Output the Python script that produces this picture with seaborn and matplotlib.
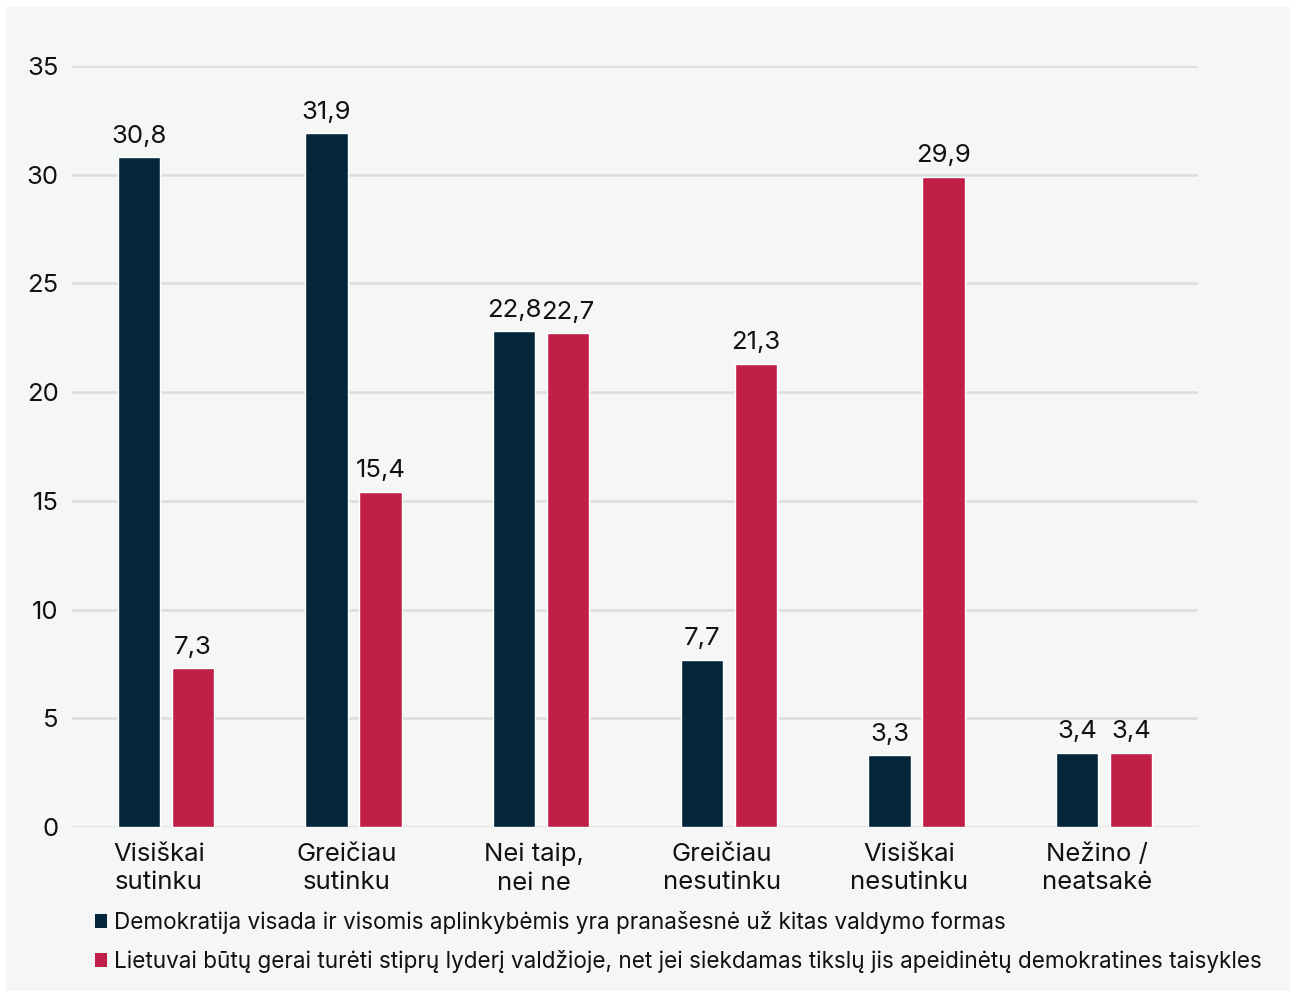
import numpy as np
import pandas as pd
import seaborn as sns
import matplotlib.pyplot as plt
from matplotlib.patches import Patch, Rectangle
from matplotlib.transforms import ScaledTranslation

categories = ["Visiškai\nsutinku", "Greičiau\nsutinku", "Nei taip,\nnei ne",
              "Greičiau\nnesutinku", "Visiškai\nnesutinku", "Nežino /\nneatsakė"]
series_names = ["Demokratija visada ir visomis aplinkybėmis yra pranašesnė už kitas valdymo formas",
                "Lietuvai būtų gerai turėti stiprų lyderį valdžioje, net jei siekdamas tikslų jis apeidinėtų demokratines taisykles"]
demokratija = [30.8, 31.9, 22.8, 7.7, 3.3, 3.4]
lyderis = [7.3, 15.4, 22.7, 21.3, 29.9, 3.4]
colors = ["#03263a", "#c01f48"]

df = pd.DataFrame({
    "kategorija": categories * 2,
    "serija": [series_names[0]] * 6 + [series_names[1]] * 6,
    "reiksme": demokratija + lyderis,
})

sns.set_theme(style="white")
plt.rcParams["font.family"] = ["Inter", "DejaVu Sans"]
plt.rcParams["text.color"] = "#111111"

fig = plt.figure(figsize=(12.9, 9.91), dpi=100, facecolor="white")
fig.patches.append(Rectangle((6 / 1290, 1 / 991), 1284 / 1290, 983 / 991,
                             transform=fig.transFigure, color="#f5f7f7", zorder=-5))
ax = fig.add_axes([72 / 1290, 1 - 827 / 991, 1126 / 1290, 761 / 991])
ax.set_facecolor("none")

sns.barplot(data=df, x="kategorija", y="reiksme", hue="serija", palette=colors,
            width=0.576, gap=0.222, ax=ax, legend=False, saturation=1)

for cont in ax.containers:
    ax.bar_label(cont, labels=[f"{v:.1f}".replace(".", ",") for v in cont.datavalues],
                 padding=7, fontsize=18.5, color="#111111")

ax.set_ylim(0, 35)
ax.set_xlim(-0.5, 5.5)
ax.set_yticks(range(0, 36, 5))
ax.yaxis.grid(True, color="#dcdddd", linewidth=1.8)
ax.set_axisbelow(True)
for s in ax.spines.values():
    s.set_visible(False)
ax.tick_params(axis="both", length=0, labelsize=18.5, colors="#111111")
ax.tick_params(axis="y", pad=9.5)
ax.tick_params(axis="x", pad=11.5)
ax.set_xlabel("")
ax.set_ylabel("")
shift = ScaledTranslation(-7 / 100, 0, fig.dpi_scale_trans)
for lab in ax.get_xticklabels():
    lab.set_linespacing(1.3)
    lab.set_transform(lab.get_transform() + shift)

handles = [Patch(facecolor=c, edgecolor="none") for c in colors]
fig.legend(handles, series_names, loc="upper left",
           bbox_to_anchor=(95 / 1290, 1 - 911 / 991), frameon=False,
           fontsize=16.2, handlelength=0.55, handleheight=0.55,
           handletextpad=0.3, labelspacing=0.72, borderpad=0, borderaxespad=0)

fig.savefig("out.png", dpi=100, facecolor="white")
